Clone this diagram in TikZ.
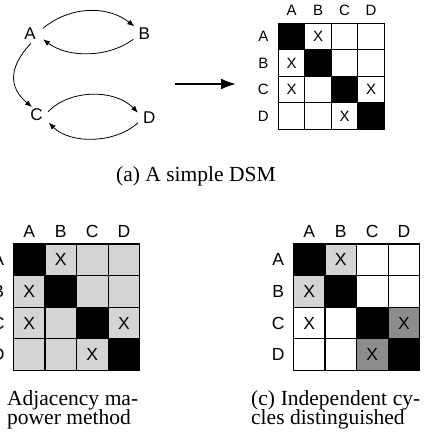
\documentclass[tikz,border=0pt]{standalone}
\usepackage{fontspec}
\setmainfont{Liberation Serif}
\newfontfamily\hel{Liberation Sans}
\usetikzlibrary{arrows.meta}
\definecolor{lg}{gray}{0.83}
\definecolor{dg}{gray}{0.55}
\begin{document}
\begin{tikzpicture}[x=1pt,y=-1pt,
  vert/.style={inner sep=0pt, font=\hel\fontsize{17}{17}\selectfont},
  arr/.style={line width=0.8pt, -{Latex[length=7pt,width=5.5pt]}},
  bigarr/.style={line width=2pt, -{Latex[length=15pt,width=11pt]}},
  cellA/.style={draw, line width=1pt, minimum size=26.5pt, inner sep=0pt, font=\hel\fontsize{15}{15}\selectfont},
  cellB/.style={draw, line width=1.2pt, minimum size=31.6pt, inner sep=0pt, font=\hel\fontsize{17.5}{17.5}\selectfont},
  labA/.style={inner sep=0pt, font=\hel\fontsize{15}{15}\selectfont},
  labB/.style={inner sep=0pt, font=\hel\fontsize{17.5}{17.5}\selectfont},
  captext/.style={inner sep=0pt, anchor=base west, font=\fontsize{21.5}{21.5}\selectfont}]
\useasboundingbox (0,0) rectangle (424,432);
\clip (0,0) rectangle (424,432);
% graph
\node[vert] (A) at (30,33.3) {A};
\node[vert] (B) at (144.3,33.3) {B};
\node[vert] (C) at (36.5,115) {C};
\node[vert] (D) at (149.3,117.3) {D};
\draw[arr] ([shift={(13,-5)}]A.center) .. controls (70,6) and (107,5) .. ([shift={(-10,-7)}]B.center);
\draw[arr] ([shift={(-11,6)}]B.center) .. controls (108,58) and (68,58) .. ([shift={(13,6)}]A.center);
\draw[arr] ([shift={(1,10)}]A.center) .. controls (17,58) and (2,82) .. ([shift={(-4.5,-8)}]C.center);
\draw[arr] ([shift={(11.5,-3.3)}]C.center) .. controls (70,89) and (115,89) .. ([shift={(-11.3,-4.6)}]D.center);
\draw[arr] ([shift={(-11.3,5.4)}]D.center) .. controls (115,144) and (70,144) .. ([shift={(12.3,7.7)}]C.center);
% big arrow
\coordinate (s) at (175,84);
\coordinate (t) at (236,84);
\draw[bigarr] (s) -- (t);
% top matrix
\foreach \r/\c/\f/\t in {1/1/black/{},1/2/white/X,1/3/white/{},1/4/white/{},
  2/1/white/X,2/2/black/{},2/3/white/{},2/4/white/{},
  3/1/white/X,3/2/white/{},3/3/black/{},3/4/white/X,
  4/1/white/{},4/2/white/{},4/3/white/X,4/4/black/{}}
  \node[cellA, fill=\f] (ta-\r-\c) at ({278.3+(\c-0.5)*26.5},{23.3+(\r-0.5)*26.5}) {\t};
\node[labA] (ta-colA) at (291.55,10) {A};
\node[labA] (ta-colB) at (318.05,10) {B};
\node[labA] (ta-colC) at (344.55,10) {C};
\node[labA] (ta-colD) at (371.05,10) {D};
\node[labA] (ta-rowA) at (263.3,36.55) {A};
\node[labA] (ta-rowB) at (263.3,63.05) {B};
\node[labA] (ta-rowC) at (263.3,89.55) {C};
\node[labA] (ta-rowD) at (263.3,116.05) {D};
\node[captext] (capa) at (116,181) {(a) A simple DSM};
% bottom left matrix
\foreach \r/\c/\f/\t in {1/1/black/{},1/2/lg/X,1/3/lg/{},1/4/lg/{},
  2/1/lg/X,2/2/black/{},2/3/lg/{},2/4/lg/{},
  3/1/lg/X,3/2/lg/{},3/3/black/{},3/4/lg/X,
  4/1/lg/{},4/2/lg/{},4/3/lg/X,4/4/black/{}}
  \node[cellB, fill=\f] (bl-\r-\c) at ({13.3+(\c-0.5)*31.6},{244+(\r-0.5)*31.6}) {\t};
\node[labB] (bl-colA) at (29.1,231.7) {A};
\node[labB] (bl-colB) at (60.7,231.7) {B};
\node[labB] (bl-colC) at (92.3,231.7) {C};
\node[labB] (bl-colD) at (123.9,231.7) {D};
\node[labB] (bl-rowA) at (-1.7,259.8) {A};
\node[labB] (bl-rowB) at (-1.7,291.4) {B};
\node[labB] (bl-rowC) at (-1.7,323) {C};
\node[labB] (bl-rowD) at (-1.7,354.6) {D};
\node[captext] (capb1) at (7,405) {\makebox[131pt][s]{Adjacency ma-}};
\node[captext] (capb2) at (7,424.5) {power method};
% bottom right matrix
\foreach \r/\c/\f/\t in {1/1/black/{},1/2/lg/X,1/3/white/{},1/4/white/{},
  2/1/lg/X,2/2/black/{},2/3/white/{},2/4/white/{},
  3/1/white/X,3/2/white/{},3/3/black/{},3/4/dg/X,
  4/1/white/{},4/2/white/{},4/3/dg/X,4/4/black/{}}
  \node[cellB, fill=\f] (br-\r-\c) at ({293.3+(\c-0.5)*31.6},{244+(\r-0.5)*31.6}) {\t};
\node[labB] (br-colA) at (309.1,231.7) {A};
\node[labB] (br-colB) at (340.7,231.7) {B};
\node[labB] (br-colC) at (372.3,231.7) {C};
\node[labB] (br-colD) at (403.9,231.7) {D};
\node[labB] (br-rowA) at (278.3,259.8) {A};
\node[labB] (br-rowB) at (278.3,291.4) {B};
\node[labB] (br-rowC) at (278.3,323) {C};
\node[labB] (br-rowD) at (278.3,354.6) {D};
\node[captext] (capc1) at (251,405) {\makebox[169pt][s]{(c) Independent cy-}};
\node[captext] (capc2) at (251,424.5) {cles distinguished};
\end{tikzpicture}
\end{document}
